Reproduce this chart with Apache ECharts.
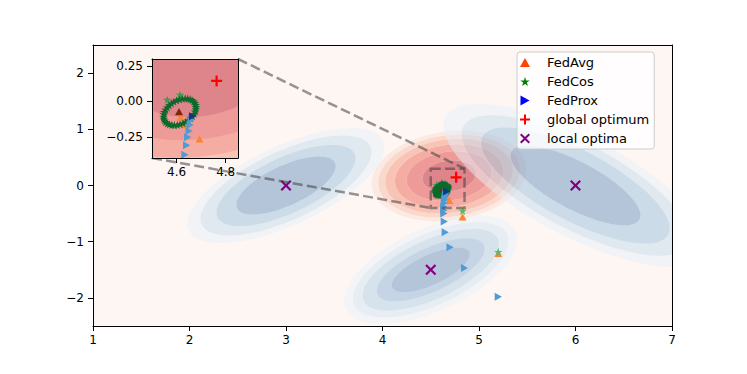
<!DOCTYPE html>
<html><head><meta charset="utf-8">
<script src="https://cdn.jsdelivr.net/npm/echarts@6/dist/echarts.min.js"></script>
<style>html,body{margin:0;padding:0;background:#fff}#c{width:747px;height:374px}</style>
</head><body><div id="c"></div>
<script>
// ---------------- data ----------------
const xTicks = [1, 2, 3, 4, 5, 6, 7];
const yTicks = [-2, -1, 0, 1, 2];
const xRange = [1, 7];
const yRange = [-2.5, 2.5];
const insetXTicks = [4.6, 4.8];
const insetYTicks = [-0.25, 0, 0.25];
const insetXRange = [4.5, 4.85];
const insetYRange = [-0.4, 0.3];

// Basins of the objective: 0 = global (red), 1..3 = local (blue)
const basinCenters = [[4.69, 0.168], [3, 0], [4.5, -1.5], [6, 0]];
const basinAxisU = [[0.2771, 0.0665], [0.507, 0.404], [0.399, 0.318], [0.663, -0.602]];
const basinAxisV = [[0.0224, -0.2717], [0.0876, -0.321], [0.0657, -0.2407], [-0.1158, -0.372]];
// contour sizes (outer -> inner) along the major (U) and minor (V) half-axes
const basinLevelsU = [
  [2.88, 2.64, 2.38, 2.02, 1.58, 1],
  [1.98, 1.72, 1.4, 1],
  [2.2, 1.98, 1.74, 1.38, 1],
  [2.03, 1.75, 1.45, 1]
];
const basinLevelsV = [
  [2.88, 2.64, 2.38, 2.02, 1.58, 1],
  [1.98, 1.72, 1.4, 1],
  [2.75, 2.35, 1.95, 1.45, 1],
  [2.1, 1.8, 1.48, 1]
];

// trajectories
const fedAvgX = [5.2, 4.83, 4.693, 4.634, 4.617, 4.61];
const fedAvgY = [-1.21, -0.56, -0.265, -0.165, -0.112, -0.072];
const fedCosX = [5.2, 4.83, 4.562, 4.614,
  4.675, 4.678, 4.679, 4.678, 4.676, 4.671, 4.664, 4.656, 4.647, 4.637,
  4.626, 4.614, 4.603, 4.591, 4.581, 4.571, 4.563, 4.556, 4.551, 4.548,
  4.547, 4.548, 4.550, 4.555, 4.562, 4.570, 4.579, 4.589, 4.600, 4.612,
  4.623, 4.635, 4.645, 4.655, 4.663, 4.670];
const fedCosY = [-1.18, -0.45, 0.012, 0.048,
  -0.011, -0.024, -0.039, -0.055, -0.071, -0.088, -0.104, -0.119, -0.132, -0.144,
  -0.154, -0.161, -0.166, -0.167, -0.166, -0.162, -0.156, -0.146, -0.135, -0.122,
  -0.107, -0.091, -0.075, -0.058, -0.042, -0.027, -0.014, -0.002, 0.008, 0.015,
  0.020, 0.021, 0.020, 0.016, 0.009, 0.000];
const fedProxX = [5.2, 4.85, 4.70, 4.65, 4.64, 4.636, 4.635, 4.634, 4.641, 4.645, 4.651, 4.655, 4.659, 4.665];
const fedProxY = [-1.98, -1.47, -1.10, -0.83, -0.64, -0.50, -0.44, -0.377, -0.31, -0.254, -0.209, -0.167, -0.131, -0.105];
const globalX = [4.763];
const globalY = [0.145];
const localX = [3, 6, 4.5];
const localY = [0, 0, -1.5];

// ---------------- styles ----------------
const basinColors = [
  ['#fce9e2', '#fbd8cc', '#f9c3b5', '#f5ada3', '#ee9a98', '#dd858b'],
  ['rgba(229,240,249,0.5)', 'rgba(195,220,237,0.5)', 'rgba(153,192,221,0.5)', 'rgba(107,148,191,0.5)'],
  ['rgba(233,242,251,0.5)', 'rgba(207,228,243,0.5)', 'rgba(175,206,229,0.5)', 'rgba(143,180,215,0.5)', 'rgba(107,148,191,0.5)'],
  ['rgba(229,240,249,0.5)', 'rgba(195,220,237,0.5)', 'rgba(153,192,221,0.5)', 'rgba(107,148,191,0.5)']
];
const A = 'M0,0L0,0M10,10L10,10';
const symUp = 'path://' + A + 'M5,0.5L10,9.5L0,9.5Z';
const symRight = 'path://' + A + 'M0.5,0L9.5,5L0.5,10Z';
const symStar = 'path://' + A + 'M5,0.5L6.12,3.96L9.76,3.96L6.81,6.09L7.94,9.55L5,7.4L2.06,9.55L3.19,6.09L0.24,3.96L3.88,3.96Z';
const symPlus = 'path://M4,0L6,0L6,4L10,4L10,6L6,6L6,10L4,10L4,6L0,6L0,4L4,4Z';
const symX = 'path://M0,1.4L1.4,0L5,3.6L8.6,0L10,1.4L6.4,5L10,8.6L8.6,10L5,6.4L1.4,10L0,8.6L3.6,5Z';
const FONT = 'DejaVu Sans';
const dashColor = 'rgba(64,64,64,0.55)';

// ---------------- helpers ----------------
const N_PTS = 120;
function ellipsePts(api, b, su, sv) {
  const c = basinCenters[b], u = basinAxisU[b], v = basinAxisV[b];
  const pts = [];
  for (let i = 0; i < N_PTS; i++) {
    const t = 2 * Math.PI * i / N_PTS;
    const ct = Math.cos(t), st = Math.sin(t);
    const p = api.coord([c[0] + su * u[0] * ct + sv * v[0] * st, c[1] + su * u[1] * ct + sv * v[1] * st]);
    pts.push(p[0].toFixed(2) + ',' + p[1].toFixed(2));
  }
  return pts;
}
function renderBand(params, api) {
  const b = api.value(0), k = api.value(1);
  const lu = basinLevelsU[b], lv = basinLevelsV[b];
  let d = 'M' + ellipsePts(api, b, lu[k], lv[k]).join('L') + 'Z';
  if (k + 1 < lu.length) d += 'M' + ellipsePts(api, b, lu[k + 1], lv[k + 1]).reverse().join('L') + 'Z';
  return { type: 'path', shape: { pathData: d }, style: { fill: basinColors[b][k] } };
}
function bandData(list) {
  const out = [];
  list.forEach(b => basinLevelsU[b].forEach((_, k) => out.push([b, k])));
  return out;
}
function pts(xs, ys) { return xs.map((x, i) => [x, ys[i]]); }
function bandSeries(name, basins, xi, z) {
  return { type: 'custom', name, xAxisIndex: xi, yAxisIndex: xi, renderItem: renderBand,
    data: bandData(basins), clip: true, silent: true, z };
}
function markerSeries(name, xs, ys, symbol, size, colorFn, xi, z) {
  return { type: 'scatter', name, xAxisIndex: xi, yAxisIndex: xi, data: pts(xs, ys),
    symbol, symbolSize: size, itemStyle: { color: colorFn, opacity: 1, borderWidth: 0 },
    clip: true, silent: true, z, emphasis: { disabled: true } };
}
const avgColor = p => p.dataIndex === fedAvgX.length - 1 ? '#7f2704' : '#fd8531';
const cosColor = p => p.dataIndex < 2 ? '#5cb66a' : (p.dataIndex < 4 ? '#3a9a4e' : '#0b6a2c');
const proxColor = p => p.dataIndex === fedProxX.length - 1 ? '#0b3a80' : '#4e9bd6';
function allMarkers(xi, z) {
  return [
    markerSeries('FedAvg', fedAvgX, fedAvgY, symUp, 8, avgColor, xi, z),
    markerSeries('FedCos', fedCosX, fedCosY, symStar, 9, cosColor, xi, z),
    markerSeries('FedProx', fedProxX, fedProxY, symRight, 8, proxColor, xi, z),
    markerSeries('global optimum', globalX, globalY, symPlus, 11, '#ff0000', xi, z),
    markerSeries('local optima', localX, localY, symX, 11, '#800080', xi, z)
  ];
}
const minus = v => (v < 0 ? '\u2212' : '');
function axis(gridIndex, pos, min, max, opts) {
  const lab = opts.labels;
  const a = {
    type: 'value', gridIndex, position: pos, min, max, z: 10,
    splitLine: { show: false },
    axisLine: { show: true, onZero: false, lineStyle: { color: '#000', width: 1 } },
    axisTick: { show: !!lab, length: 5, inside: false, lineStyle: { color: '#000', width: 1 } },
    axisLabel: { show: !!lab, color: '#000', fontSize: 12, fontFamily: FONT, margin: opts.margin || 8 }
  };
  if (opts.interval) a.interval = opts.interval;
  if (lab && opts.custom) {
    a.axisTick.customValues = opts.custom;
    a.axisLabel.customValues = opts.custom;
  }
  if (opts.formatter) a.axisLabel.formatter = opts.formatter;
  return a;
}

const chart = echarts.init(document.getElementById('c'), null, { renderer: 'svg', width: 747, height: 374 });
chart.setOption({
  animation: false,
  backgroundColor: '#ffffff',
  grid: [
    { left: 93, top: 45, width: 579, height: 281, show: true, backgroundColor: '#fdf6f3', borderWidth: 0, outerBoundsMode: 'none' },
    { left: 152, top: 59, width: 86, height: 99, show: true, backgroundColor: '#f5ada3', borderWidth: 0, outerBoundsMode: 'none' }
  ],
  xAxis: [
    axis(0, 'bottom', xRange[0], xRange[1], { labels: true, interval: 1, margin: 8, formatter: v => String(v) }),
    axis(0, 'top', xRange[0], xRange[1], { labels: false }),
    axis(1, 'bottom', insetXRange[0], insetXRange[1], { labels: true, custom: insetXTicks, margin: 8, formatter: v => v.toFixed(1) }),
    axis(1, 'top', insetXRange[0], insetXRange[1], { labels: false })
  ],
  yAxis: [
    axis(0, 'left', yRange[0], yRange[1], { labels: true, custom: yTicks, margin: 9, formatter: v => minus(v) + Math.abs(v) }),
    axis(0, 'right', yRange[0], yRange[1], { labels: false }),
    axis(1, 'left', insetYRange[0], insetYRange[1], { labels: true, custom: insetYTicks, margin: 9, formatter: v => minus(v) + Math.abs(v).toFixed(2) }),
    axis(1, 'right', insetYRange[0], insetYRange[1], { labels: false })
  ],
  legend: {
    show: true, orient: 'vertical', left: 517, top: 52, z: 20,
    padding: [4, 5, 4, 3], itemGap: 6, itemWidth: 34, itemHeight: 10, symbolKeepAspect: true,
    backgroundColor: 'rgba(255,255,255,0.8)', borderColor: '#cccccc', borderWidth: 1, borderRadius: 3,
    selectedMode: false,
    textStyle: { fontSize: 13, color: '#000', fontFamily: FONT },
    data: [
      { name: 'FedAvg', icon: symUp, itemStyle: { color: '#ff4500', borderWidth: 0 } },
      { name: 'FedCos', icon: symStar, itemStyle: { color: '#008000', borderWidth: 0 } },
      { name: 'FedProx', icon: symRight, itemStyle: { color: '#0000ff', borderWidth: 0 } },
      { name: 'global optimum', icon: symPlus, itemStyle: { color: '#ff0000', borderWidth: 0 } },
      { name: 'local optima', icon: symX, itemStyle: { color: '#800080', borderWidth: 0 } }
    ]
  },
  series: [
    bandSeries('global basin', [0], 0, 1),
    bandSeries('local basins', [1, 2, 3], 0, 2),
    {
      type: 'custom', name: 'zoom box', xAxisIndex: 0, yAxisIndex: 0, silent: true, z: 5,
      data: [[insetXRange[0], insetYRange[0], insetXRange[1], insetYRange[1]]],
      renderItem: (params, api) => {
        const p0 = api.coord([api.value(0), api.value(1)]);
        const p1 = api.coord([api.value(2), api.value(3)]);
        return { type: 'rect', shape: { x: p0[0], y: p1[1], width: p1[0] - p0[0], height: p0[1] - p1[1] },
          style: { fill: 'none', stroke: dashColor, lineWidth: 2.5, lineDash: [10, 4.3] } };
      }
    },
    ...allMarkers(0, 4),
    bandSeries('global basin', [0], 2, 6),
    ...allMarkers(2, 7)
  ]
});

// connector lines between the zoomed box and the inset, placed with the axes' own scales
const insTR = chart.convertToPixel({ xAxisIndex: 2, yAxisIndex: 2 }, [insetXRange[1], insetYRange[1]]);
const boxTR = chart.convertToPixel({ xAxisIndex: 0, yAxisIndex: 0 }, [insetXRange[1], insetYRange[1]]);
const insBL = chart.convertToPixel({ xAxisIndex: 2, yAxisIndex: 2 }, [insetXRange[0], insetYRange[0]]);
const boxBL = chart.convertToPixel({ xAxisIndex: 0, yAxisIndex: 0 }, [insetXRange[0], insetYRange[0]]);
const ls = { stroke: dashColor, lineWidth: 2.5, lineDash: [10, 4.3], fill: null };
chart.setOption({
  graphic: [
    { type: 'line', z: 5, silent: true, shape: { x1: insTR[0], y1: insTR[1], x2: boxTR[0], y2: boxTR[1] }, style: ls },
    { type: 'line', z: 5, silent: true, shape: { x1: insBL[0], y1: insBL[1], x2: boxBL[0], y2: boxBL[1] }, style: ls }
  ]
});
</script>
</body></html>
